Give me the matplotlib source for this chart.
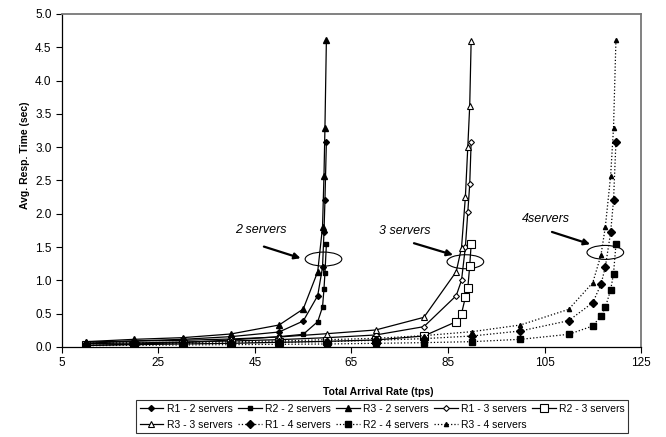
import numpy as np
import matplotlib.pyplot as plt
from matplotlib.patches import Ellipse

plt.rcParams['font.family'] = ['Liberation Sans', 'DejaVu Sans']

########### Data ###########

# 2 servers
x2 = [10, 20, 30, 40, 50, 55, 58, 59, 59.3, 59.5, 59.8]
r1_2 = [0.055, 0.09, 0.115, 0.155, 0.225, 0.39, 0.77, 1.2, 1.72, 2.2, 3.08]
r2_2 = [0.02, 0.045, 0.065, 0.105, 0.155, 0.19, 0.38, 0.6, 0.87, 1.11, 1.54]
r3_2 = [0.08, 0.115, 0.14, 0.195, 0.33, 0.57, 1.13, 1.8, 2.57, 3.29, 4.61]

# 3 servers
x3 = [10, 20, 30, 40, 50, 60, 70, 80, 86.7, 87.8, 88.6, 89.1, 89.5, 89.8]
r1_3 = [0.05, 0.06, 0.075, 0.09, 0.11, 0.14, 0.18, 0.305, 0.77, 1.0, 1.5, 2.02, 2.44, 3.08]
r2_3 = [0.025, 0.035, 0.045, 0.055, 0.07, 0.085, 0.105, 0.165, 0.38, 0.5, 0.745, 0.88, 1.22, 1.54]
r3_3 = [0.075, 0.09, 0.1, 0.12, 0.15, 0.2, 0.255, 0.445, 1.13, 1.49, 2.25, 3.0, 3.62, 4.6]

# 4 servers
x4 = [10, 20, 30, 40, 50, 60, 70, 80, 90, 100, 110, 115, 116.7, 117.6, 118.7, 119.3, 119.8]
r1_4 = [0.045, 0.05, 0.055, 0.06, 0.07, 0.08, 0.1, 0.125, 0.165, 0.24, 0.395, 0.665, 0.94, 1.2, 1.72, 2.2, 3.08]
r2_4 = [0.02, 0.025, 0.03, 0.035, 0.04, 0.045, 0.055, 0.065, 0.08, 0.115, 0.19, 0.315, 0.465, 0.595, 0.855, 1.1, 1.54]
r3_4 = [0.06, 0.065, 0.07, 0.08, 0.09, 0.11, 0.13, 0.17, 0.23, 0.33, 0.565, 0.965, 1.38, 1.8, 2.57, 3.29, 4.61]

x_ticks = [5, 25, 45, 65, 85, 105, 125]
y_ticks = [0.0, 0.5, 1.0, 1.5, 2.0, 2.5, 3.0, 3.5, 4.0, 4.5, 5.0]

# annotations: label, text pos, arrow start, arrow end, ellipse centre
notes = [
    ('2 servers', (46.3, 1.75), (46.3, 1.52), (55.0, 1.32), (59.2, 1.32)),
    ('3 servers', (76.0, 1.74), (77.4, 1.57), (86.6, 1.37), (88.6, 1.28)),
    ('4servers', (105.3, 1.92), (106.0, 1.74), (115.0, 1.53), (117.6, 1.42)),
]

################# Plot #################

fig = plt.figure(figsize=(6.66, 4.37), dpi=100)
ax = fig.add_axes([0.093, 0.206, 0.9625 - 0.093, 0.968 - 0.206])

lw = 0.9
h = []
h += ax.plot(x2, r1_2, '-', color='k', lw=lw, marker='D', ms=3.0, mfc='k', label='R1 - 2 servers')
h += ax.plot(x2, r2_2, '-', color='k', lw=lw, marker='s', ms=3.0, mfc='k', label='R2 - 2 servers')
h += ax.plot(x2, r3_2, '-', color='k', lw=lw, marker='^', ms=3.8, mfc='k', label='R3 - 2 servers')
h += ax.plot(x3, r1_3, '-', color='k', lw=lw, marker='D', ms=3.0, mfc='white', mew=0.8, label='R1 - 3 servers')
h += ax.plot(x3, r2_3, '-', color='k', lw=lw, marker='s', ms=5.2, mfc='white', mew=0.8, label='R2 - 3 servers')
h += ax.plot(x3, r3_3, '-', color='k', lw=lw, marker='^', ms=4.8, mfc='white', mew=0.8, label='R3 - 3 servers')
h += ax.plot(x4, r1_4, ':', color='k', lw=lw, marker='D', ms=3.6, mfc='k', label='R1 - 4 servers')
h += ax.plot(x4, r2_4, ':', color='k', lw=lw, marker='s', ms=4.5, mfc='k', label='R2 - 4 servers')
h += ax.plot(x4, r3_4, ':', color='k', lw=lw, marker='^', ms=3.0, mfc='k', label='R3 - 4 servers')

for txt, tpos, a0, a1, ec in notes:
    ax.text(tpos[0], tpos[1], txt, style='italic', fontsize=9, ha='center', va='center')
    ax.annotate('', xy=a1, xytext=a0,
                arrowprops=dict(arrowstyle='-|>', color='k', lw=1.6, mutation_scale=9))
    ax.add_patch(Ellipse(ec, 7.6, 0.21, fill=False, edgecolor='k', lw=0.8))

ax.set_xlim(5, 125)
ax.set_ylim(0, 5)
ax.set_xticks(x_ticks)
ax.set_yticks(y_ticks)
ax.set_yticklabels(['%.1f' % v for v in y_ticks])
ax.tick_params(direction='out', length=4, width=0.8, labelsize=8.5, colors='k')

for s in ['left', 'bottom']:
    ax.spines[s].set_color('k')
    ax.spines[s].set_linewidth(0.9)
for s in ['top', 'right']:
    ax.spines[s].set_color('#777777')
    ax.spines[s].set_linewidth(1.3)

fig.text(0.038, 0.645, 'Avg. Resp. Time (sec)', rotation=90, fontsize=7.5,
         fontweight='bold', ha='center', va='center')
fig.text(0.568, 0.103, 'Total Arrival Rate (tps)', fontsize=7.5,
         fontweight='bold', ha='center', va='center')

# legend is filled by column, reorder so rows read like the original
order = [0, 5, 1, 6, 2, 7, 3, 8, 4]
leg = fig.legend([h[i] for i in order], [h[i].get_label() for i in order],
                 ncol=5, loc='upper left', bbox_to_anchor=(0.204, 0.085),
                 bbox_transform=fig.transFigure, fontsize=7.5, frameon=True,
                 fancybox=False, edgecolor='k', handlelength=2.3,
                 handletextpad=0.3, columnspacing=0.5, labelspacing=0.6,
                 borderpad=0.35, borderaxespad=0)
leg.get_frame().set_linewidth(0.8)

plt.savefig('out.png', dpi=100)
